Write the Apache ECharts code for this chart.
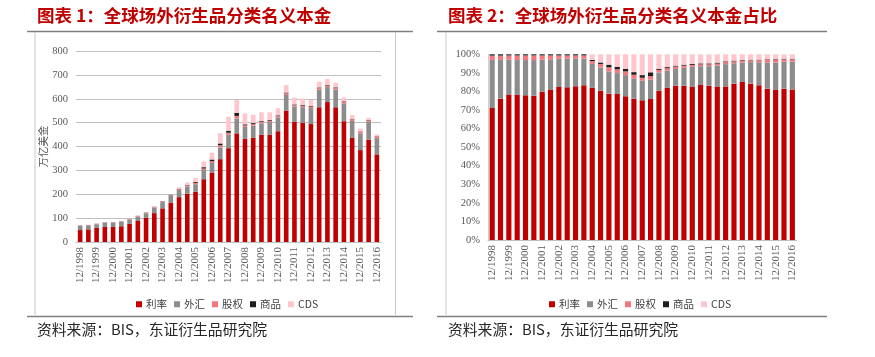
<!DOCTYPE html>
<html><head><meta charset="utf-8">
<script src="https://cdn.jsdelivr.net/npm/echarts@6/dist/echarts.min.js"></script>
<style>html,body{margin:0;padding:0;background:#fff}#c{width:875px;height:357px}</style>
</head><body><div id="c"></div>
<script>
const categories = ['12/1998','6/1999','12/1999','6/2000','12/2000','6/2001','12/2001','6/2002','12/2002','6/2003','12/2003','6/2004','12/2004','6/2005','12/2005','6/2006','12/2006','6/2007','12/2007','6/2008','12/2008','6/2009','12/2009','6/2010','12/2010','6/2011','12/2011','6/2012','12/2012','6/2013','12/2013','6/2014','12/2014','6/2015','12/2015','6/2016','12/2016'];
const seriesNames = ['利率','外汇','股权','商品','CDS'];
const leftTicks = [0,100,200,300,400,500,600,700,800];

// Chart 1: notional, trillion USD
const irAmt  = [50,53,59,63,63,66,76,88,101,121,141,164,188,202,210,263,291,347,393,455,432,436,450,450,464,551,503,499,494,564,586,564,506,436,385,429,367];
const fxAmt  = [17.5,16,15.5,17,17.5,18.3,16.8,18.5,19.5,23,26,28.5,29.5,31,32,38,40,49,56,63,50,52,47,52,58,65,64,66,67,74,63,75,75,71,70,74,68];
const eqAmt  = [1.6,1.7,1.8,2,2,2.1,2.2,2.4,2.3,2.6,2.9,3.5,3.7,4.5,5.8,6.8,7.5,9.2,8.5,10.2,6.5,6.6,6.6,6.3,5.6,6.8,6,6.3,6.3,6.8,6.6,6.9,6.9,7.5,7.1,6.8,6.6];
const cmAmt  = [0.5,0.5,0.5,0.5,0.5,0.6,0.6,0.7,0.8,0.9,1.0,1.2,1.4,1.8,3.6,5.5,7.1,7.6,8.5,13,4.4,3.7,2.9,2.9,2.9,3.2,3.1,2.9,2.6,2.5,2.2,2.2,1.9,1.7,1.3,1.4,1.4];
const cdsAmt = [0,0,0,0,0,0,0,0,0,0,0,0,7,10,16,24,29,43,58,55,46,35,37,32,30,32,29,27,25,24,25,19,16,15,12,9,7];

// Chart 2: share, %
const irPct  = [71.1,76.1,78.3,78.3,77.9,77.7,79.9,81.0,82.4,82.2,82.8,83.3,81.9,80.4,78.8,78.6,77.4,76.1,75.2,75.9,80.4,81.9,83.1,83.1,82.6,83.7,83.1,82.6,82.6,84.2,85.1,84.2,83.3,81.5,80.8,81.5,81.1];
const fxPct  = [25.9,20.9,18.8,18.6,19.0,19.2,17.2,16.3,15.2,15.5,15.0,14.4,12.9,12.5,12.0,11.3,11.4,10.9,10.6,10.5,9.8,9.3,9.0,9.6,10.7,9.9,10.5,11.4,12.1,11.0,10.5,11.6,12.4,14.1,14.8,14.5,14.9];
const eqPct  = [2.3,2.3,2.3,2.5,2.5,2.5,2.3,2.1,1.8,1.7,1.6,1.7,1.6,1.9,2.2,2.0,2.0,2.0,1.6,1.8,1.4,1.3,1.3,1.2,1.0,1.0,1.0,1.0,1.1,1.0,1.0,1.0,1.1,1.4,1.5,1.3,1.3];
const cmPct  = [0.7,0.7,0.6,0.6,0.6,0.6,0.6,0.6,0.6,0.6,0.6,0.6,0.6,0.8,1.4,1.4,1.4,1.4,1.4,2.1,0.6,0.6,0.5,0.5,0.5,0.5,0.5,0.5,0.4,0.4,0.3,0.3,0.3,0.3,0.3,0.3,0.3];
const cdsPct = [0,0,0,0,0,0,0,0,0,0,0,0,3.0,4.4,5.6,6.7,7.8,9.6,11.2,9.7,7.8,6.9,6.1,5.6,5.2,4.9,4.9,4.5,3.8,3.4,3.1,2.9,2.9,2.7,2.6,2.4,2.4];

const colors = ['#C00000','#8C8C8C','#F4777C','#1E1E1E','#FFC7CD'];
const serif = '"Liberation Serif","DejaVu Serif",serif';
const cjk = '"Noto Sans CJK SC",sans-serif';

const chart = echarts.init(document.getElementById('c'));
const amtData = [irAmt, fxAmt, eqAmt, cmAmt, cdsAmt];
const pctData = [irPct, fxPct, eqPct, cmPct, cdsPct];

function xAxisCfg(gi){
  return {type:'category', gridIndex:gi, data:categories,
    axisLine:{lineStyle:{color:'#BFBFBF'}}, axisTick:{show:false},
    axisLabel:{interval:1, rotate:90, fontFamily:serif, fontSize:11, color:'#595959', margin:5}};
}
const series = [];
seriesNames.forEach((n,i)=>{
  series.push({name:n, type:'bar', stack:'a', xAxisIndex:0, yAxisIndex:0, barWidth:'56%',
    itemStyle:{color:colors[i]}, data:amtData[i]});
});
seriesNames.forEach((n,i)=>{
  series.push({name:n, type:'bar', stack:'b', xAxisIndex:1, yAxisIndex:1, barWidth:'62%',
    itemStyle:{color:colors[i]}, data:pctData[i]});
});
function legendCfg(left){
  return {left:left, top:294, itemWidth:6, itemHeight:6, itemGap:7, icon:'rect',
    data:seriesNames, textStyle:{fontFamily:cjk, fontSize:10.5, color:'#404040', padding:[0,0,0,-1]}};
}
const lineStyle = {stroke:'#7F7F7F', lineWidth:1.5};
const boxStyle = {stroke:'#C8C8C8', lineWidth:1};
chart.setOption({
  animation:false,
  color:colors,
  grid:[
    {left:76, right:494, top:51, bottom:115},
    {left:488, right:78.5, top:54.3, bottom:117}
  ],
  xAxis:[xAxisCfg(0), xAxisCfg(1)],
  yAxis:[
    {type:'value', gridIndex:0, min:leftTicks[0], max:leftTicks[leftTicks.length-1], interval:100,
     name:'万亿美金', nameLocation:'middle', nameRotate:90, nameGap:28,
     nameTextStyle:{fontFamily:cjk, fontSize:10.5, color:'#595959'},
     axisLine:{show:false}, axisTick:{show:false},
     axisLabel:{fontFamily:serif, fontSize:10.5, color:'#595959', margin:8},
     splitLine:{lineStyle:{color:'#BFBFBF'}}},
    {type:'value', gridIndex:1, min:0, max:100, interval:10,
     axisLine:{show:true, lineStyle:{color:'#D0D0D0'}}, axisTick:{show:false},
     axisLabel:{fontFamily:serif, fontSize:10.5, color:'#595959', margin:8, formatter:'{value}%'},
     splitLine:{show:false}}
  ],
  legend:[legendCfg(131), legendCfg(544)],
  series:series,
  graphic:[
    {type:'text', left:37, top:7, style:{text:'图表 1：全球场外衍生品分类名义本金', fontFamily:cjk, fontWeight:'bold', fontSize:17.5, fill:'#C00000'}},
    {type:'text', left:448, top:7, style:{text:'图表 2：全球场外衍生品分类名义本金占比', fontFamily:cjk, fontWeight:'bold', fontSize:17.5, fill:'#C00000'}},
    {type:'line', shape:{x1:27,y1:31.5,x2:413,y2:31.5}, style:lineStyle},
    {type:'line', shape:{x1:437,y1:31.5,x2:827,y2:31.5}, style:lineStyle},
    {type:'line', shape:{x1:27,y1:316.5,x2:413,y2:316.5}, style:lineStyle},
    {type:'line', shape:{x1:437,y1:316.5,x2:827,y2:316.5}, style:lineStyle},
    {type:'line', shape:{x1:35,y1:32,x2:35,y2:315}, style:boxStyle},
    {type:'line', shape:{x1:395.5,y1:32,x2:395.5,y2:315}, style:boxStyle},
    {type:'line', shape:{x1:446,y1:32,x2:446,y2:315}, style:boxStyle},
    {type:'text', left:37, top:322, style:{text:'资料来源：BIS，东证衍生品研究院', fontFamily:cjk, fontSize:14.8, fill:'#262626'}},
    {type:'text', left:448, top:322, style:{text:'资料来源：BIS，东证衍生品研究院', fontFamily:cjk, fontSize:14.8, fill:'#262626'}}
  ]
});
</script></body></html>
